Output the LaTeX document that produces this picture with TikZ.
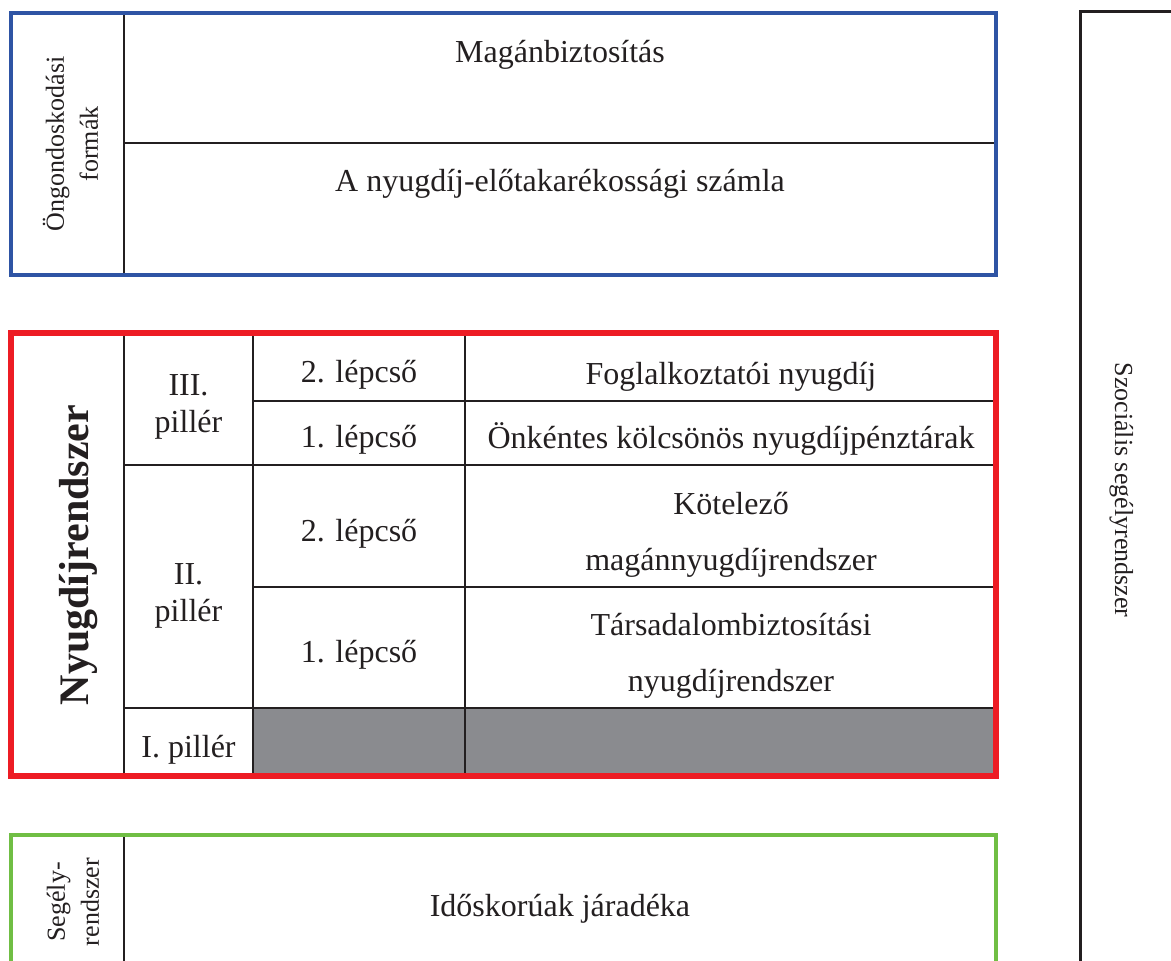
\documentclass[tikz,border=0pt]{standalone}
\usepackage{fontspec}
\setmainfont{Liberation Serif}
\usetikzlibrary{positioning}
\definecolor{frameblue}{RGB}{46,84,164}
\definecolor{framered}{RGB}{237,28,36}
\definecolor{framegreen}{RGB}{112,190,68}
\definecolor{cellgrey}{RGB}{138,139,143}
\definecolor{ink}{RGB}{35,31,32}
\tikzstyle{gridline} = [draw=ink, line width=1pt]
\tikzstyle{celltext} = [inner sep=0pt, text=ink, align=center, font=\fontsize{16}{28}\selectfont]
\tikzstyle{pillartext} = [inner sep=0pt, text=ink, align=center, font=\fontsize{16}{18.5}\selectfont]
\tikzstyle{sidetext} = [inner sep=0pt, text=ink, align=center, font=\fontsize{13}{17}\selectfont]

\begin{document}
\begin{tikzpicture}[x=0.5pt, y=-0.5pt]
    \clip (0,0) rectangle (1171,961);

    % Self-provision block (blue)
    \draw[gridline] (124,13.5) -- (124,275);
    \draw[gridline] (124,143) -- (996,143);
    \draw[frameblue, line width=2pt] (11,13.5) rectangle (996,275);
    \node[sidetext, rotate=90] (ongond) at (70.5,144) {Öngondoskodási\\formák};
    \node[celltext, anchor=base] (magan) at (560,63) {Magánbiztosítás};
    \node[celltext, anchor=base] (szamla) at (560,192) {A nyugdíj-előtakarékossági számla};

    % Pension system block (red)
    \fill[cellgrey] (253,708) rectangle (996,776);
    \foreach \x in {124,253,465}
        \draw[gridline] (\x,333) -- (\x,776);
    \draw[gridline] (253,400.7) -- (996,400.7);
    \draw[gridline] (124,465) -- (996,465);
    \draw[gridline] (253,587) -- (996,587);
    \draw[gridline] (124,708) -- (996,708);
    \draw[framered, line width=3pt] (11,333) rectangle (996,776);
    \node[rotate=90, anchor=base, inner sep=0pt, text=ink, font=\fontsize{21}{25}\selectfont\bfseries] (nyugdij) at (88,555) {Nyugdíjrendszer};

    \node[pillartext] (p3) at (188.5,406.5) {III.\\pillér};
    \node[pillartext] (p2) at (188.5,595.5) {II.\\pillér};
    \node[celltext, anchor=base] (p1) at (188.5,757) {I. pillér};

    \node[celltext, anchor=base] (p3s2) at (359,383) {2. lépcső};
    \node[celltext, anchor=base] (p3s1) at (359,448) {1. lépcső};
    \node[celltext, anchor=base] (p2s2) at (359,542) {2. lépcső};
    \node[celltext, anchor=base] (p2s1) at (359,662) {1. lépcső};

    \node[celltext, anchor=base] (fogl) at (731,385) {Foglalkoztatói nyugdíj};
    \node[celltext, anchor=base] (onk) at (731,449) {Önkéntes kölcsönös nyugdíjpénztárak};
    \node[celltext] (kotel) at (731,534.5) {Kötelező\\magánnyugdíjrendszer};
    \node[celltext] (tars) at (731,656) {Társadalombiztosítási\\nyugdíjrendszer};

    % Aid block (green)
    \draw[gridline] (124,835) -- (124,990);
    \draw[framegreen, line width=2pt] (11,835) rectangle (996,990);
    \node[sidetext, rotate=90] (segely) at (73,902) {Segély-\\rendszer};
    \node[celltext, anchor=base] (idos) at (560,916) {Időskorúak járadéka};

    % Social aid column
    \draw[draw=ink, line width=1.5pt] (1200,12) -| (1080,990);
    \node[sidetext, rotate=-90, anchor=base] (szoc) at (1115,490) {Szociális segélyrendszer};
\end{tikzpicture}
\end{document}
